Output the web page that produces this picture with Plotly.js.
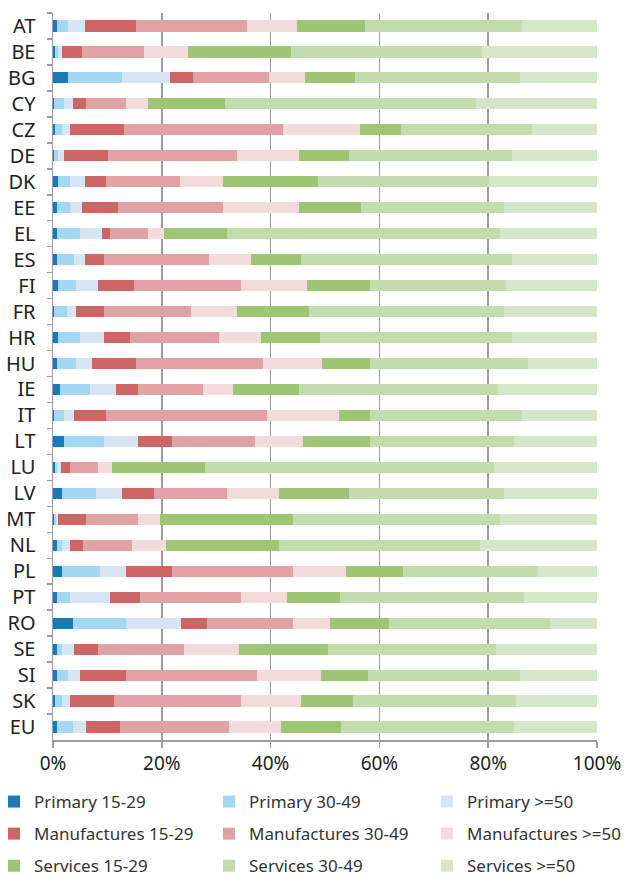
<!DOCTYPE html>
<html>
<head>
<meta charset="utf-8">
<script src="https://cdn.plot.ly/plotly-3.0.1.min.js"></script>
<style>html,body{margin:0;padding:0;background:#fff;}#chart{width:630px;height:878px;}</style>
</head>
<body>
<div id="chart"></div>
<script>
const countries = ["AT","BE","BG","CY","CZ","DE","DK","EE","EL","ES","FI","FR","HR","HU","IE","IT","LT","LU","LV","MT","NL","PL","PT","RO","SE","SI","SK","EU"];

const primary15 = [0.7,0.3,2.8,0.25,0.3,0.25,1.0,0.7,0.7,0.7,1.0,0.25,1.0,0.7,1.35,0.25,2.0,0.3,1.7,0.2,0.7,1.7,0.7,3.6,0.7,0.7,0.3,0.7];
const primary30 = [2.1,0.7,9.8,1.75,1.4,0.75,2.2,2.5,4.3,3.1,3.2,2.25,4.0,3.5,5.4,1.75,7.3,0.4,6.2,0.3,1.0,6.9,2.5,9.8,1.0,2.1,1.4,2.9];
const primary50 = [3.0,0.7,8.9,1.6,1.5,1.1,2.6,2.2,4.0,2.0,4.1,1.8,4.4,3.0,4.75,1.9,6.3,0.7,4.8,0.5,1.5,4.8,7.3,10.2,2.2,2.2,1.5,2.5];
const manuf15 = [9.5,3.6,4.3,2.4,9.9,8.0,3.9,6.6,1.5,3.6,6.5,5.0,4.7,8.1,4.1,5.8,6.2,1.7,5.8,5.0,2.4,8.4,5.5,4.7,4.3,8.4,8.0,6.2];
const manuf30 = [20.3,11.4,13.9,7.4,29.2,23.7,13.6,19.2,6.9,19.3,19.7,16.1,16.5,23.3,12.0,29.6,15.3,5.1,13.5,9.6,8.9,22.3,18.5,15.8,15.8,24.1,23.3,20.1];
const manuf50 = [9.2,8.1,6.6,4.0,14.1,11.4,8.0,14.0,3.0,7.7,12.1,8.5,7.6,10.9,5.5,13.2,8.8,2.7,9.5,4.0,6.2,9.8,8.5,6.9,10.2,11.7,11.1,9.5];
const serv15 = [12.6,18.9,9.3,14.3,7.6,9.3,17.4,11.5,11.6,9.2,11.6,13.1,10.9,8.7,12.1,5.7,12.3,17.0,13.0,24.5,20.8,10.5,9.7,10.8,16.3,8.7,9.6,11.1];
const serv30 = [28.8,35.1,30.2,46.0,24.0,29.9,31.4,26.2,50.2,38.8,25.0,35.9,35.3,29.1,36.6,28.0,26.5,53.1,28.4,38.1,37.0,24.7,33.8,29.5,30.9,27.9,29.9,31.7];
const serv50 = [13.8,21.2,14.2,22.3,12.0,15.6,19.9,17.1,17.8,15.6,16.8,17.1,15.6,12.7,18.2,13.8,15.3,19.0,17.1,17.8,21.5,10.9,13.5,8.7,18.6,14.2,14.9,15.3];

const seriesNames = ["Primary 15-29","Primary 30-49","Primary >=50","Manufactures 15-29","Manufactures 30-49","Manufactures >=50","Services 15-29","Services 30-49","Services >=50"];
const seriesValues = [primary15,primary30,primary50,manuf15,manuf30,manuf50,serv15,serv30,serv50];
const colors = ["#1a7ab8","#a3d8f5","#d6e4f3","#cc6664","#e0a2a4","#f3dadc","#9dc574","#c3dcab","#d5e7c8"];
const legendFor = ["legend","legend2","legend3","legend","legend2","legend3","legend","legend2","legend3"];

const traces = seriesValues.map((vals, i) => {
  const total = vals.map((v, j) => seriesValues.reduce((s, arr) => s + arr[j], 0));
  return {
    type: "bar",
    orientation: "h",
    name: seriesNames[i],
    y: countries,
    x: vals.map((v, j) => v / total[j]),
    marker: {color: colors[i], line: {width: 0}},
    legend: legendFor[i],
    legendgroup: "g" + i,
    hoverinfo: "name+x"
  };
});

const W = 630, H = 878;
const ML = 53, MR = 33, MT = 13, MB = 138;
const PW = W - ML - MR, PH = H - MT - MB;
function lx(px) { return (px - ML) / PW; }
function ly(py) { return (H - MB - py) / PH; }

const legendFont = {family: "Noto Sans, Open Sans, sans-serif", size: 17, color: "#333"};
const legendBase = {
  orientation: "v",
  xref: "paper", yref: "paper",
  yanchor: "top", xanchor: "left",
  font: legendFont,
  bgcolor: "rgba(0,0,0,0)",
  tracegroupgap: 7,
  itemwidth: 30,
  maxheight: 400,
  traceorder: "grouped"
};

const layout = {
  width: W, height: H,
  margin: {l: ML, r: MR, t: MT, b: MB, autoexpand: false},
  paper_bgcolor: "#fff", plot_bgcolor: "#fff",
  barmode: "stack",
  bargap: 0.57,
  font: {family: "Noto Sans, Open Sans, sans-serif", color: "#222"},
  xaxis: {
    range: [0, 1],
    tickvals: [0, 0.2, 0.4, 0.6, 0.8, 1],
    ticktext: ["0%","20%","40%","60%","80%","100%"],
    tickfont: {size: 19, color: "#222"},
    showgrid: true, gridcolor: "#9a9ca1", gridwidth: 1.5,
    showline: true, linecolor: "#9a9ca1", linewidth: 1.5,
    ticks: "outside", ticklen: 6, tickcolor: "#9a9ca1", tickwidth: 1.5,
    zeroline: false, automargin: false,
    fixedrange: true
  },
  yaxis: {
    type: "category",
    autorange: "reversed",
    tickfont: {size: 20, color: "#222"},
    showline: true, linecolor: "#9a9ca1", linewidth: 1.5,
    ticks: "outside", ticklen: 5, tickcolor: "#9a9ca1", tickwidth: 1.5,
    tickson: "boundaries",
    ticklabelstandoff: 12,
    showgrid: false, automargin: false,
    fixedrange: true
  },
  legend: Object.assign({}, legendBase, {x: lx(-6), y: ly(784)}),
  legend2: Object.assign({}, legendBase, {x: lx(209), y: ly(784)}),
  legend3: Object.assign({}, legendBase, {x: lx(427), y: ly(784)}),
  showlegend: true
};

Plotly.newPlot("chart", traces, layout, {displayModeBar: false, staticPlot: true});
</script>
</body>
</html>
